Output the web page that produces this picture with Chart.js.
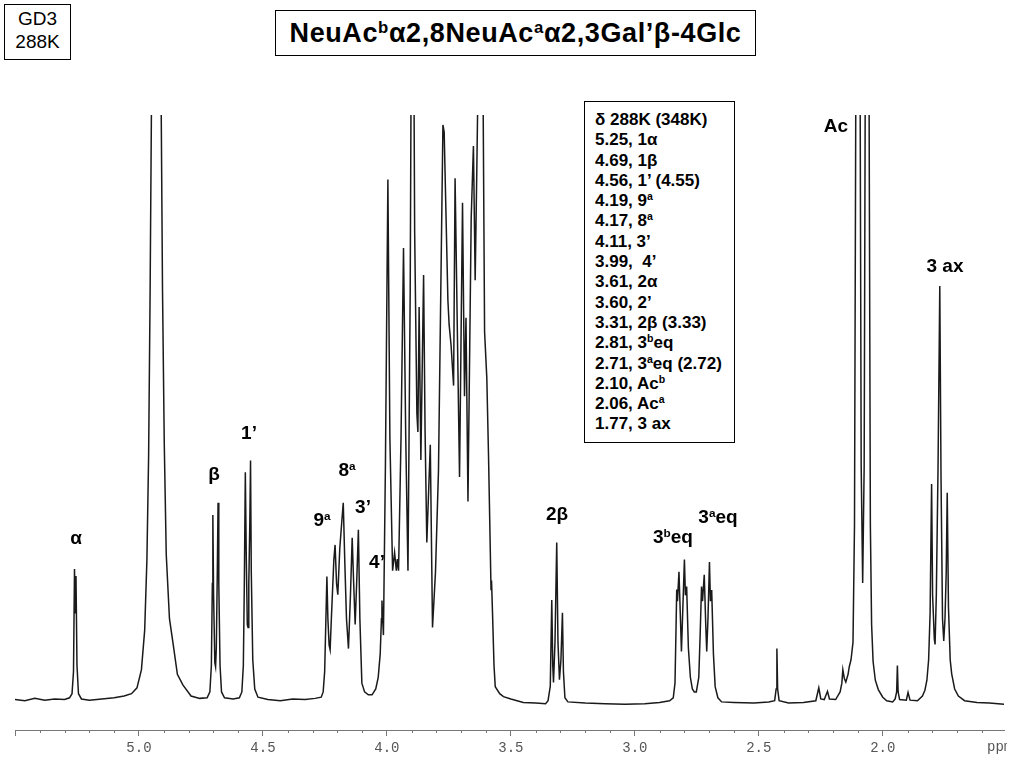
<!DOCTYPE html>
<html>
<head>
<meta charset="utf-8">
<script src="https://cdn.jsdelivr.net/npm/chart.js@4.4.1/dist/chart.umd.min.js"></script>
<style>
  body { margin: 0; background: #fff; font-family: "Liberation Sans", Arial, sans-serif; }
  #wrap { position: relative; width: 1024px; height: 768px; overflow: hidden; }
  #spec { position: absolute; left: 0; top: 0; }
  .box { position: absolute; border: 1px solid #000; box-sizing: border-box; background: #fff; color: #000; }
  #tag { left: 4px; top: 4px; width: 67px; height: 56px; font-size: 19px; line-height: 23px; text-align: center; padding-top: 2px; }
  #title { left: 275px; top: 10px; width: 481px; height: 46px; font-size: 27px; letter-spacing: 0.6px; font-weight: bold; text-align: center; line-height: 44px; white-space: nowrap; }
  #shifts { left: 584px; top: 101px; width: 151px; height: 342px; font-size: 17px; font-weight: bold; padding: 8px 0 0 10px; line-height: 20.3px; white-space: nowrap; }
  sup { font-size: 0.62em; vertical-align: 0.55em; line-height: 0; }
  .pk { position: absolute; font-size: 19px; font-weight: bold; transform: translate(-50%, -50%); white-space: nowrap; }
  #ppm { position: absolute; left: 987px; top: 739px; width: 20px; overflow: hidden; font: 14px "Liberation Mono", monospace; color: #555; }
</style>
</head>
<body>
<div id="wrap">
  <canvas id="spec" width="1024" height="768"></canvas>

  <div class="box" id="tag">GD3<br>288K</div>
  <div class="box" id="title">NeuAc<sup>b</sup>α2,8NeuAc<sup>a</sup>α2,3Gal’β-4Glc</div>
  <div class="box" id="shifts">
    δ 288K (348K)<br>
    5.25, 1α<br>
    4.69, 1β<br>
    4.56, 1’ (4.55)<br>
    4.19, 9<sup>a</sup><br>
    4.17, 8<sup>a</sup><br>
    4.11, 3’<br>
    3.99, &nbsp;4’<br>
    3.61, 2α<br>
    3.60, 2’<br>
    3.31, 2β (3.33)<br>
    2.81, 3<sup>b</sup>eq<br>
    2.71, 3<sup>a</sup>eq (2.72)<br>
    2.10, Ac<sup>b</sup><br>
    2.06, Ac<sup>a</sup><br>
    1.77, 3 ax
  </div>

  <div class="pk" style="left:76px;top:538px">α</div>
  <div class="pk" style="left:214px;top:474px">β</div>
  <div class="pk" style="left:249px;top:433px">1’</div>
  <div class="pk" style="left:322px;top:520px">9<sup>a</sup></div>
  <div class="pk" style="left:347px;top:470px">8<sup>a</sup></div>
  <div class="pk" style="left:363px;top:507px">3’</div>
  <div class="pk" style="left:377px;top:562px">4’</div>
  <div class="pk" style="left:557px;top:514px">2β</div>
  <div class="pk" style="left:673px;top:537px">3<sup>b</sup>eq</div>
  <div class="pk" style="left:718px;top:517px">3<sup>a</sup>eq</div>
  <div class="pk" style="left:836px;top:126px">Ac</div>
  <div class="pk" style="left:945px;top:266px">3 ax</div>
  <div id="ppm">ppm</div>
</div>

<script>
// chemical shift (ppm) and intensity, left to right
const shift = [
  5.500, 5.460, 5.420, 5.380, 5.340, 5.300, 5.280, 5.270, 5.264, 5.260, 5.257, 5.254, 5.250, 5.244, 5.232,
  5.200, 5.150, 5.100, 5.060, 5.030, 5.008, 4.990, 4.977, 4.968, 4.961, 4.955, 4.949, 4.930, 4.911, 4.905,
  4.898, 4.890, 4.877, 4.863, 4.845, 4.823, 4.790, 4.755, 4.725, 4.714, 4.708, 4.704, 4.702, 4.699, 4.694,
  4.691, 4.688, 4.684, 4.681, 4.678, 4.673, 4.667, 4.655, 4.620, 4.595, 4.585, 4.579, 4.575, 4.571, 4.567,
  4.563, 4.560, 4.557, 4.553, 4.550, 4.547, 4.541, 4.533, 4.520, 4.480, 4.430, 4.380, 4.330, 4.290, 4.265,
  4.257, 4.251, 4.246, 4.242, 4.238, 4.233, 4.229, 4.224, 4.214, 4.209, 4.203, 4.198, 4.190, 4.183, 4.176,
  4.170, 4.163, 4.155, 4.147, 4.140, 4.134, 4.128, 4.122, 4.115, 4.109, 4.101, 4.090, 4.075, 4.060, 4.045,
  4.035, 4.027, 4.022, 4.020, 4.017, 4.014, 4.006, 3.996, 3.988, 3.977, 3.969, 3.962, 3.958, 3.953, 3.943,
  3.933, 3.924, 3.915, 3.906, 3.897, 3.888, 3.879, 3.875, 3.870, 3.863, 3.852, 3.846, 3.839, 3.825, 3.816,
  3.804, 3.792, 3.774, 3.769, 3.754, 3.749, 3.741, 3.731, 3.725, 3.707, 3.695, 3.687, 3.681, 3.673, 3.660,
  3.651, 3.644, 3.637, 3.628, 3.620, 3.613, 3.606, 3.597, 3.590, 3.580, 3.578, 3.574, 3.568, 3.563, 3.545,
  3.530, 3.500, 3.450, 3.400, 3.360, 3.350, 3.341, 3.335, 3.331, 3.328, 3.322, 3.315, 3.310, 3.304, 3.298,
  3.292, 3.288, 3.282, 3.270, 3.200, 3.120, 3.040, 2.960, 2.900, 2.860, 2.845, 2.838, 2.834, 2.831, 2.828,
  2.822, 2.816, 2.812, 2.807, 2.800, 2.796, 2.791, 2.784, 2.776, 2.768, 2.760, 2.752, 2.742, 2.736, 2.731,
  2.727, 2.720, 2.714, 2.710, 2.705, 2.699, 2.695, 2.690, 2.683, 2.676, 2.665, 2.650, 2.600, 2.520, 2.460,
  2.436, 2.430, 2.427, 2.424, 2.418, 2.380, 2.320, 2.270, 2.258, 2.250, 2.236, 2.223, 2.215, 2.190, 2.172,
  2.165, 2.161, 2.155, 2.149, 2.140, 2.135, 2.128, 2.120, 2.114, 2.109, 2.100, 2.091, 2.087, 2.081, 2.075,
  2.071, 2.063, 2.055, 2.050, 2.045, 2.039, 2.030, 2.018, 2.000, 1.984, 1.960, 1.950, 1.944, 1.941, 1.938,
  1.932, 1.905, 1.898, 1.890, 1.860, 1.840, 1.830, 1.822, 1.815, 1.809, 1.803, 1.799, 1.792, 1.789, 1.784,
  1.777, 1.770, 1.765, 1.759, 1.754, 1.749, 1.744, 1.740, 1.735, 1.728, 1.722, 1.710, 1.695, 1.670, 1.620,
  1.570, 1.511
];
const intensity = [
  0.2, 0.0, 0.4, 0.1, 0.3, 0.2, 0.5, 1.2, 5, 22.5, 15, 21.3, 6, 1.2, 0.3,
  0.1, 0.3, 0.5, 0.8, 1.2, 2.2, 5.3, 12, 24, 42, 70, 105, 500, 105, 70,
  44, 25, 14, 9.9, 4.5, 2.7, 0.8, 0.4, 0.5, 1.5, 6, 20, 31.7, 18, 6.5,
  5.8, 9, 22, 33.8, 20, 6, 1.5, 0.5, 0.3, 0.5, 1.5, 6, 20, 39, 24,
  13, 12.5, 20, 30, 41, 22, 7, 2, 0.6, 0.2, 0.0, 0.3, 0.2, 0.4, 0.6,
  1.5, 5, 14, 21.2, 14, 9.5, 8.7, 14, 24, 26.6, 20, 18.1, 26, 30, 33.8,
  24, 14, 8.9, 18, 27.8, 20, 13, 20, 29.2, 14, 3, 1.5, 1, 1, 2,
  4, 8, 14, 17.1, 14, 11.2, 40, 89, 45, 22.2, 25.3, 22.2, 24.2, 22.2, 45,
  77.3, 45, 22.2, 70, 160, 80, 49, 45.9, 67.2, 41.1, 72.7, 45.9, 27, 43.7, 12.5,
  22, 39.2, 98.3, 97.1, 68.4, 64.2, 60.6, 53.8, 89.2, 38.2, 85, 52, 65.4, 34, 82.4,
  94.7, 71.8, 91.6, 120, 160, 110, 63, 55.1, 41.6, 19, 20.5, 15, 6, 2.4, 1.2,
  0.7, 0.3, -0.3, -0.4, -0.5, 0, 2.5, 17.2, 6, 3.1, 10, 27, 10, 3.6, 7,
  15, 5, 0.5, -0.2, -0.4, -0.5, -0.6, -0.5, -0.3, 0, 0.5, 3, 12, 19, 17,
  22, 14, 8.4, 15, 24.1, 18, 19.5, 9, 4, 2, 1.5, 1.5, 4, 12, 19.5,
  17, 21.5, 13, 8.4, 14, 23.7, 17, 18.9, 8, 2.4, 0.5, -0.2, -0.3, -0.4, -0.2,
  0, 2, 8.9, 2, 0, -0.4, -0.3, 0, 2.2, 0.3, 0.2, 1.6, 0.3, 0.2, 1.5,
  3, 5.3, 3.8, 3.2, 4.5, 5.8, 7, 10, 30, 100, 600, 100, 40, 20.1, 40,
  100, 600, 100, 30, 13, 6.7, 3.5, 1.9, 0.6, 0, -0.2, 0.3, 1.5, 6, 1.5,
  0.2, 0.1, 1.4, 0.1, 0, 0.8, 1.8, 3.5, 7, 15, 37, 18, 10.5, 9.6, 18,
  40, 70.8, 38, 14, 10.2, 14, 22, 35.5, 16, 7, 4.6, 2, 0.8, 0, -0.3,
  -0.4, -0.6
];
const ppmMin = 1.511;
const ppmMax = 5.5;
const minorTickValues = [5.4, 5.3, 5.2, 5.1, 4.9, 4.8, 4.7, 4.6, 4.4, 4.3, 4.2, 4.1, 3.9, 3.8, 3.7, 3.6,
  3.4, 3.3, 3.2, 3.1, 2.9, 2.8, 2.7, 2.6, 2.4, 2.3, 2.2, 2.1, 1.9, 1.8, 1.7, 1.6];

const points = shift.map((s, i) => ({ x: s, y: intensity[i] }));

// small 0.1 ppm ticks under the axis line
const minorTicks = {
  id: 'minorTicks',
  afterDraw(chart) {
    const sx = chart.scales.x;
    const ctx = chart.ctx;
    const y0 = chart.chartArea.bottom;
    ctx.save();
    ctx.strokeStyle = '#777';
    ctx.lineWidth = 1;
    minorTickValues.forEach(v => {
      const px = Math.round(sx.getPixelForValue(v)) + 0.5;
      ctx.beginPath();
      ctx.moveTo(px, y0);
      ctx.lineTo(px, y0 + 3);
      ctx.stroke();
    });
    ctx.restore();
  }
};

new Chart(document.getElementById('spec').getContext('2d'), {
  type: 'line',
  data: {
    datasets: [{
      data: points,
      borderColor: '#1a1a1a',
      borderWidth: 1.5,
      pointRadius: 0,
      tension: 0,
      fill: false,
      clip: 0
    }]
  },
  options: {
    responsive: false,
    animation: false,
    layout: { padding: { left: 15, right: 20, top: 115, bottom: 0 } },
    plugins: { legend: { display: false }, tooltip: { enabled: false } },
    scales: {
      x: {
        type: 'linear',
        reverse: true,
        min: ppmMin,
        max: ppmMax,
        afterFit(scale) { scale.height = 38; },
        border: { display: true, color: '#777', width: 1 },
        grid: { drawOnChartArea: false, drawTicks: true, tickLength: 6, tickColor: '#777' },
        ticks: {
          stepSize: 0.5,
          includeBounds: false,
          maxRotation: 0,
          padding: 4,
          color: '#555',
          font: { family: 'Liberation Mono', size: 14 },
          callback: v => (v >= 5.5 ? '' : v.toFixed(1))
        }
      },
      y: { display: false, min: -5, max: 100 }
    }
  },
  plugins: [minorTicks]
});
</script>
</body>
</html>
